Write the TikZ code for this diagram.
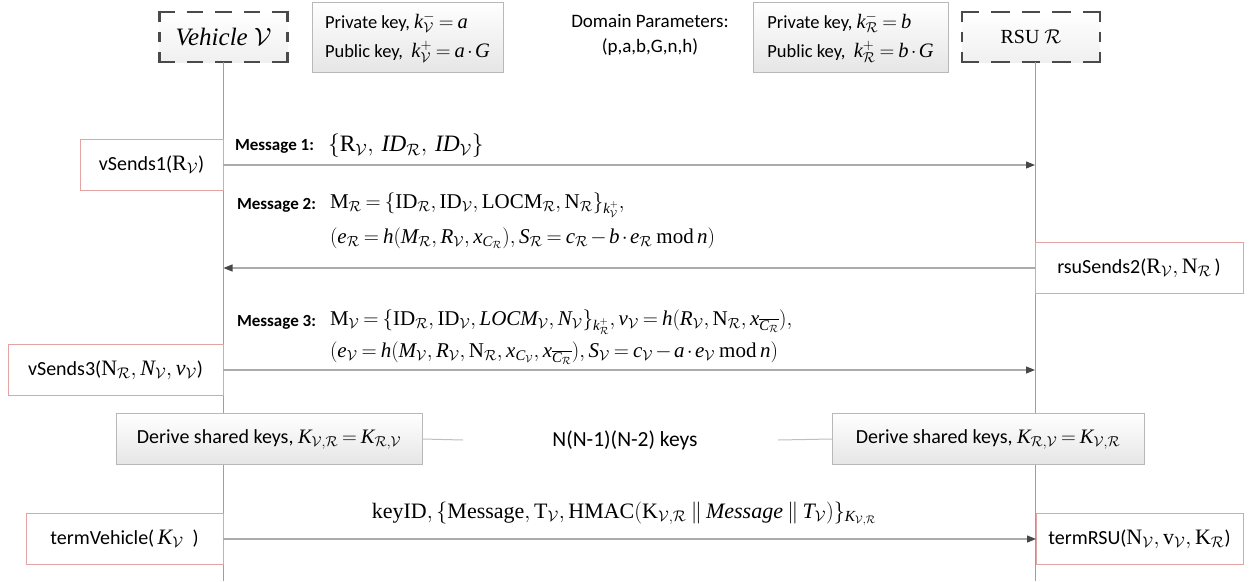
\RequirePackage{fix-cm}
\documentclass[tikz,border=0pt]{standalone}
\usepackage{fontspec}
\setmainfont{Liberation Serif}
\newfontfamily\cali{Carlito}
\newfontfamily\tnr{Liberation Serif}[NFSSFamily=tnr]
\DeclareSymbolFont{tlet}{TU}{tnr}{m}{it}
\newcommand\setlet[1]{\DeclareMathSymbol{#1}{\mathalpha}{tlet}{`#1}}
\setlet{a}\setlet{b}\setlet{c}\setlet{d}\setlet{e}\setlet{f}\setlet{g}\setlet{h}\setlet{i}
\setlet{j}\setlet{k}\setlet{l}\setlet{m}\setlet{n}\setlet{o}\setlet{p}\setlet{q}\setlet{r}
\setlet{s}\setlet{t}\setlet{u}\setlet{v}\setlet{w}\setlet{x}\setlet{y}\setlet{z}
\setlet{A}\setlet{B}\setlet{C}\setlet{D}\setlet{E}\setlet{F}\setlet{G}\setlet{H}\setlet{I}
\setlet{J}\setlet{K}\setlet{L}\setlet{M}\setlet{N}\setlet{O}\setlet{P}\setlet{Q}\setlet{R}
\setlet{S}\setlet{T}\setlet{U}\setlet{V}\setlet{W}\setlet{X}\setlet{Y}\setlet{Z}
\thickmuskip=3.5mu plus 2mu
\medmuskip=2mu plus 1mu
\usetikzlibrary{arrows.meta}
\definecolor{pinkb}{HTML}{E3A3A3}
\definecolor{dashc}{HTML}{4A4A4A}
\newcommand{\cV}{\mathcal{V}}
\newcommand{\cR}{\mathcal{R}}
\newcommand{\mth}[1]{{\fontsize{22}{24}\selectfont$#1$}}
\newcommand{\mths}[1]{{\fontsize{20.5}{24}\selectfont$#1$}}
\newcommand{\mymod}{\;\mathrm{mod}\,}
\begin{document}
\begin{tikzpicture}[x=1pt,y=-1pt,
  every node/.style={inner sep=0pt,outer sep=0pt},
  lab/.style={font=\cali\fontsize{21.5}{24}\selectfont},
  actorfill/.style={top color=white,bottom color=black!6,minimum height=50pt},
  hside/.style={draw=dashc,line width=2.8pt,shorten <=-1.4pt,shorten >=-1.4pt},
  keybox/.style={draw=black!28,line width=0.8pt,top color=white,bottom color=black!10,
     minimum height=70pt,align=left,font=\cali\fontsize{18.5}{29}\selectfont},
  redbox/.style={draw=pinkb,line width=0.9pt,fill=white,minimum height=51pt,
     font=\cali\fontsize{20}{24}\selectfont},
  derive/.style={draw=black!28,line width=0.8pt,top color=white,bottom color=black!10,
     minimum height=51pt,font=\cali\fontsize{20}{24}\selectfont},
  life/.style={draw=black!38,line width=1pt},
  thin/.style={draw=black!25,line width=1pt},
  msg/.style={draw=black!33,line width=1.2pt,-{Triangle[length=9pt,width=7pt,color=black!72]}},
  mlab/.style={anchor=west,font=\cali\bfseries\fontsize{17}{20}\selectfont},
  formula/.style={anchor=west,font=\fontsize{21}{26}\selectfont}
]
\useasboundingbox (0,0) rectangle (1255,581);

% actors
\node[actorfill,minimum width=128pt,font=\fontsize{25}{30}\selectfont\itshape] (veh) at (223.5,37) {Vehicle $\cV$};
\node[actorfill,minimum width=138pt,font=\fontsize{20}{24}\selectfont] (rsu) at (1031,37) {RSU $\cR$};
\draw[hside,dash pattern=on 16.56pt off 12pt] (veh.north west) -- (veh.north east);
\draw[hside,dash pattern=on 16.56pt off 12pt] (veh.south west) -- (veh.south east);
\draw[hside,dash pattern=on 10.93pt off 10pt] (veh.north west) -- (veh.south west);
\draw[hside,dash pattern=on 10.93pt off 10pt] (veh.north east) -- (veh.south east);
\draw[hside,dash pattern=on 18.56pt off 12pt] (rsu.north west) -- (rsu.north east);
\draw[hside,dash pattern=on 18.56pt off 12pt] (rsu.south west) -- (rsu.south east);
\draw[hside,dash pattern=on 10.93pt off 10pt] (rsu.north west) -- (rsu.south west);
\draw[hside,dash pattern=on 10.93pt off 10pt] (rsu.north east) -- (rsu.south east);

% key boxes and domain parameters
\node[keybox,minimum width=191pt] (kv) at (407.5,37)
  {Private key, \mths{k_{\cV}^{-}=a}\\Public key, \ \mths{k_{\cV}^{+}=a\cdot G}};
\node[keybox,minimum width=195pt] (kr) at (850.5,37)
  {Private key, \mths{k_{\cR}^{-}=b}\\Public key, \ \mths{k_{\cR}^{+}=b\cdot G}};
\node[align=center,font=\cali\fontsize{19}{25}\selectfont] (dom) at (650,35)
  {Domain Parameters:\\(p,a,b,G,n,h)};

% lifelines
\coordinate (vend) at (223.5,581);
\coordinate (rend) at (1035,581);
\draw[life] (veh.south) -- (vend);
\draw[life] (rsu.south -| rend) -- (rend);

% red boxes
\node[redbox,minimum width=143pt] (vs1) at (151.5,165) {vSends1(\mth{\mathrm{R}_{\cV}})};
\node[redbox,minimum width=208pt] (rs2) at (1139,268) {rsuSends2(\mth{\mathrm{R}_{\cV},\mathrm{N}_{\cR}}\,)};
\node[redbox,minimum width=215pt] (vs3) at (115.5,370) {vSends3(\mth{\mathrm{N}_{\cR},N_{\cV},v_{\cV}})};
\node[redbox,minimum width=197pt] (tv) at (124.5,539) {termVehicle(\,\mth{K_{\cV}}\ \ )};
\node[redbox,minimum width=207pt] (tr) at (1139.5,539) {termRSU(\mth{\mathrm{N}_{\cV},\mathrm{v}_{\cV},\mathrm{K}_{\cR}})};

% messages
\coordinate (r1) at (1035,165);
\coordinate (v2) at (223.5,268);
\coordinate (r3) at (1035,370);
\draw[msg] (vs1.east) -- (r1);
\draw[msg] (rs2.west) -- (v2);
\draw[msg] (vs3.east) -- (r3);
\draw[msg] (tv.east) -- (tr.west);

\node[mlab] (l1) at (235,146) {Message 1:};
\node[formula,font=\fontsize{23.5}{26}\selectfont] (f1) at (328,146) {$\{\mathrm{R}_{\cV},\,\mathit{ID}_{\cR},\,\mathit{ID}_{\cV}\}$};
\node[mlab] (l2) at (237,205) {Message 2:};
\node[formula] (f2a) at (330,205) {$\mathrm{M}_{\cR}=\{\mathrm{ID}_{\cR},\mathrm{ID}_{\cV},\mathrm{LOCM}_{\cR},\mathrm{N}_{\cR}\}_{k_{\cV}^{+}},$};
\node[formula] (f2b) at (330,238) {$(e_{\cR}=h(M_{\cR},R_{\cV},x_{C_{\cR}}),S_{\cR}=c_{\cR}-b\cdot e_{\cR}\mymod n)$};
\node[mlab] (l3) at (237,322) {Message 3:};
\node[formula] (f3a) at (330,322) {$\mathrm{M}_{\cV}=\{\mathrm{ID}_{\cR},\mathrm{ID}_{\cV},\mathit{LOCM}_{\cV},N_{\cV}\}_{k_{\cR}^{+}},v_{\cV}=h(R_{\cV},\mathrm{N}_{\cR},x_{\overline{C_{\cR}}}),$};
\node[formula] (f3b) at (330,353) {$(e_{\cV}=h(M_{\cV},R_{\cV},\mathrm{N}_{\cR},x_{C_{\cV}},x_{\overline{C_{\cR}}}),S_{\cV}=c_{\cV}-a\cdot e_{\cV}\mymod n)$};
\node[formula,anchor=center,font=\fontsize{22}{26}\selectfont] (f4) at (624,514) {$\mathrm{keyID},\{\mathrm{Message},\mathrm{T}_{\cV},\mathrm{HMAC}(\mathrm{K}_{\cV,\cR}\parallel \mathit{Message}\parallel T_{\cV})\}_{K_{\cV,\cR}}$};

% derive shared keys
\node[derive,minimum width=306pt] (dl) at (269,439) {Derive shared keys, \mths{K_{\cV,\cR}=K_{\cR,\cV}}};
\node[derive,minimum width=312pt] (dr) at (988,439) {Derive shared keys, \mths{K_{\cR,\cV}=K_{\cV,\cR}}};
\node[lab] (nk) at (625,440) {N(N-1)(N-2) keys};
\coordinate (kl) at (463,440);
\coordinate (kr2) at (778,440);
\draw[thin] (dl.east) -- (kl);
\draw[thin] (kr2) -- (dr.west);
\end{tikzpicture}
\end{document}
